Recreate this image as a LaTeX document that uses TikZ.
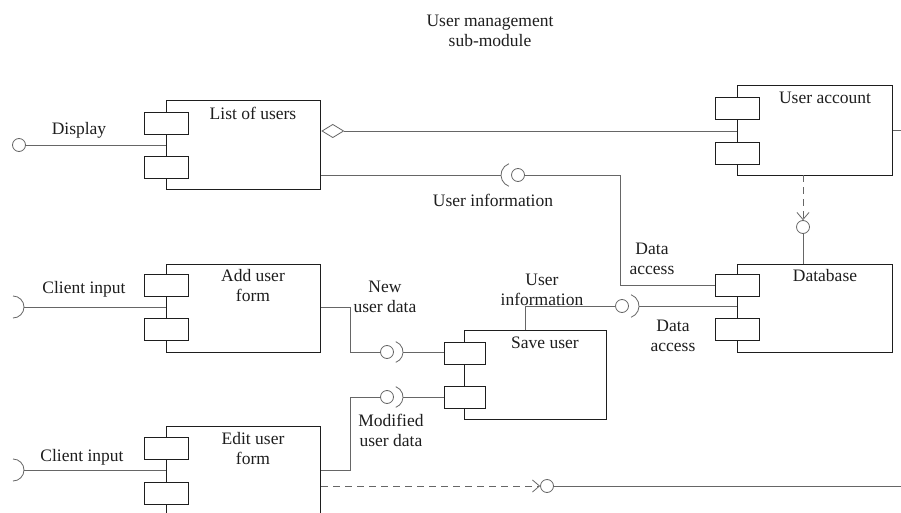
\documentclass[tikz,border=0pt]{standalone}
\usepackage{fontspec}
\setmainfont{Liberation Serif}
\usetikzlibrary{arrows.meta}
\definecolor{ln}{HTML}{666666}
\definecolor{bx}{HTML}{1E1E1E}
\begin{document}
\begin{tikzpicture}[x=1pt,y=-1pt,
  every node/.style={font=\fontsize{17.5}{20}\selectfont, text=bx},
  comp/.style={draw=bx, line width=1.3pt, anchor=north west, inner sep=0pt, fill=white},
  portbox/.style={draw=bx, line width=1.3pt, fill=white, anchor=north west, inner sep=0pt, minimum width=44pt, minimum height=22pt},
  txt/.style={align=center, inner sep=0pt},
  conn/.style={draw=ln, line width=0.8pt},
  ball/.style={circle, draw=ln, line width=0.8pt, fill=white, minimum size=13pt, inner sep=0pt},
  sock/.style={draw=ln, line width=0.8pt},
  dsh/.style={conn, dash pattern=on 7pt off 5pt},
  barb/.style={-{Straight Barb[length=7pt,width=12pt]}},
]
\clip (0,0) rectangle (901,513);
\fill[white] (0,0) rectangle (901,513);

% title
\node[txt] (title) at (490,31) {User management\\sub-module};

% components
\node[comp, minimum width=154pt, minimum height=89pt] (lu) at (166,100) {};
\node[portbox] (lu1) at (144,112) {};
\node[portbox] (lu2) at (144,156) {};
\node[txt] (lut) at (253,113) {List of users};

\node[comp, minimum width=155pt, minimum height=90pt] (ua) at (737,85) {};
\node[portbox] (ua1) at (715,97) {};
\node[portbox] (ua2) at (715,142) {};
\node[txt] (uat) at (825,98) {User account};

\node[comp, minimum width=154pt, minimum height=88pt] (af) at (166,264) {};
\node[portbox] (af1) at (144,274) {};
\node[portbox] (af2) at (144,318) {};
\node[txt] (aft) at (253,286) {Add user\\form};

\node[comp, minimum width=155pt, minimum height=88pt] (db) at (737,264) {};
\node[portbox] (db1) at (715,274) {};
\node[portbox] (db2) at (715,318) {};
\node[txt] (dbt) at (825,276) {Database};

\node[comp, minimum width=142pt, minimum height=89pt] (su) at (464,330) {};
\node[portbox, minimum width=41pt] (su1) at (444,342) {};
\node[portbox, minimum width=41pt] (su2) at (444,386) {};
\node[txt] (sut) at (545,343) {Save user};

\node[comp, minimum width=154pt, minimum height=120pt] (ef) at (166,426) {};
\node[portbox] (ef1) at (144,437) {};
\node[portbox] (ef2) at (144,482) {};
\node[txt] (eft) at (253,449) {Edit user\\form};

% Display (provided interface)
\node[ball] (dispb) at (19,145) {};
\draw[conn] (dispb.east) -- (dispb.east -| lu.west);
\node[txt] (displ) at (79,130) {Display};

% aggregation List of users -- User account
\coordinate (agg) at (lu.east |- 0,131);
\draw[conn, -{Diamond[open, length=23pt, width=14pt, line width=0.8pt]}] (agg -| ua.west) -- (agg);
\draw[conn] (ua.east |- 0,130) -- (901,130);

% List of users -> Database : User information / Data access
\coordinate (ui1) at (lu.east |- 0,175);
\coordinate (uis) at (501,175);
\node[ball] (uib) at (518,175) {};
\draw[sock] (513,175) ++(110:12) arc[start angle=110, end angle=250, radius=12];
\draw[conn] (ui1) -- (uis);
\draw[conn] (uib.east) -- (620,175) -- (620,285) -- (db1.west |- 0,285);
\node[txt] (uil) at (493,200) {User information};
\node[txt] (da1) at (652,259) {Data\\access};

% User account -> Database dependency
\node[ball] (uab) at (803,227) {};
\draw[dsh, barb] (803,175) -- (uab.north);
\draw[conn] (uab.south) -- (db.north -| uab);

% Client inputs
\coordinate (ci1s) at (24,307);
\draw[sock] (13,307) ++(90:11) arc[start angle=90, end angle=-90, radius=11];
\draw[conn] (ci1s) -- (af.west |- ci1s);
\node[txt] (ci1) at (84,289) {Client input};
\coordinate (ci2s) at (24,470);
\draw[sock] (13,470) ++(90:11) arc[start angle=90, end angle=-90, radius=11];
\draw[conn] (ci2s) -- (ef.west |- ci2s);
\node[txt] (ci2) at (82,457) {Client input};

% New user data
\node[ball] (nub) at (387,352) {};
\draw[conn] (af.east |- 0,307) -- (350,307) -- (350,352) -- (nub.west);
\draw[sock] (392,352) ++(70:11) arc[start angle=70, end angle=-70, radius=11];
\draw[conn] (403,352) -- (su1.west |- 0,352);
\node[txt] (nul) at (385,297) {New\\user data};

% Modified user data
\node[ball] (mub) at (387,397) {};
\draw[conn] (ef.east |- 0,470) -- (350,470) -- (350,397) -- (mub.west);
\draw[sock] (392,397) ++(70:11) arc[start angle=70, end angle=-70, radius=11];
\draw[conn] (403,397) -- (su2.west |- 0,397);
\node[txt] (mul) at (391,430) {Modified\\user data};

% Save user -> Database
\node[ball] (sdb) at (622,306) {};
\draw[conn] (525,330) -- (525,306) -- (sdb.west);
\draw[sock] (627,306) ++(70:12) arc[start angle=70, end angle=-70, radius=12];
\draw[conn] (639,306) -- (db.west |- 0,306);
\node[txt] (suil) at (542,290) {User\\information};
\node[txt] (da2) at (673,336) {Data\\access};

% Edit user form dependency
\node[ball] (efb) at (547,486) {};
\draw[dsh, barb] (ef.east |- 0,486) -- (efb.west);
\draw[conn] (efb.east) -- (901,486);
\end{tikzpicture}
\end{document}
